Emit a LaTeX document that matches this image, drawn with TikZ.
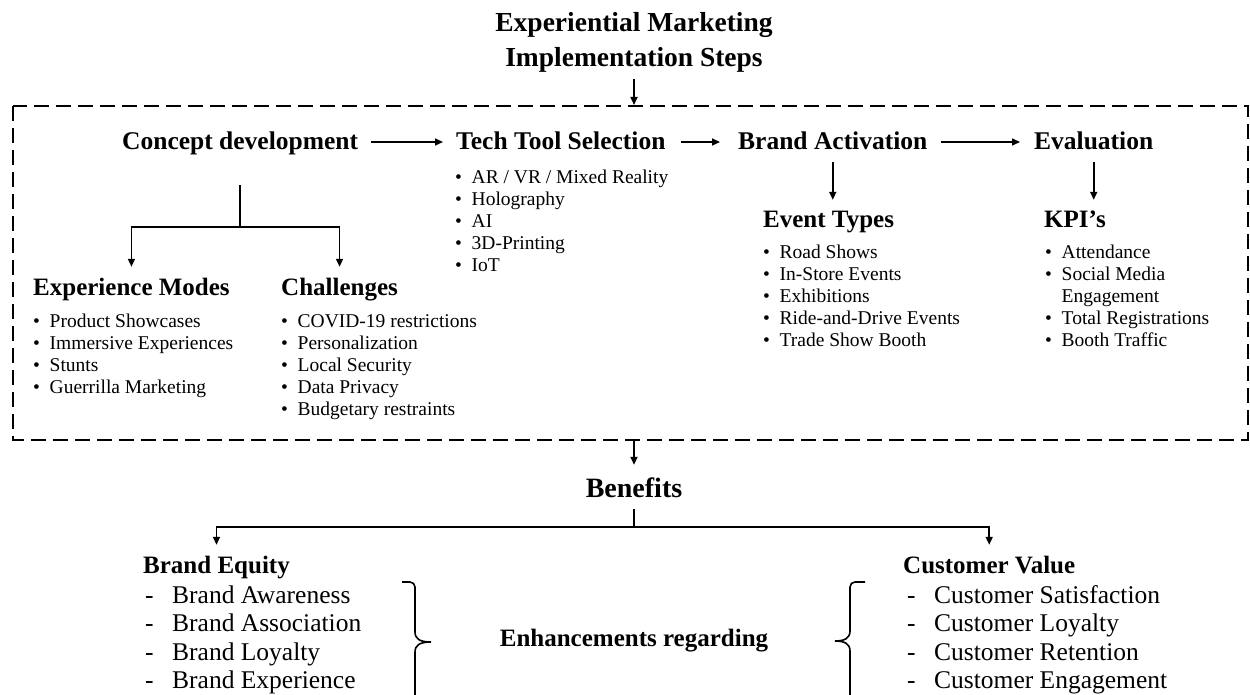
\documentclass[tikz,border=0pt]{standalone}
\usepackage{fontspec}
\setmainfont{Liberation Serif}
\usetikzlibrary{arrows.meta}
\newcommand\myblt{\makebox[16.5pt][l]{\textbullet}}
\newcommand\mydsh{\makebox[27pt][l]{-}}
\begin{document}
\begin{tikzpicture}[x=1pt,y=-1pt,
  arr/.style={-{Triangle[length=8pt,width=7pt]}, line width=1.6pt},
  ln/.style={line width=1.6pt},
  ttl/.style={font=\bfseries\fontsize{27.5}{35}\selectfont, align=center, inner sep=0pt},
  stephd/.style={font=\bfseries\fontsize{25.5}{28}\selectfont, inner sep=0pt, text height=21pt, text depth=5pt, anchor=base west},
  subhd/.style={font=\bfseries\fontsize{25}{28}\selectfont, inner sep=0pt, text height=17pt, text depth=5pt, anchor=base west},
  blist/.style={font=\fontsize{19.5}{22.2}\selectfont, inner sep=0pt, align=left, anchor=base west},
  dlist/.style={font=\fontsize{25.5}{28.5}\selectfont, inner sep=0pt, align=left, anchor=base west},
  dbox/.style={line width=2pt, dash pattern=on 15pt off 7pt}
]
\useasboundingbox (0,0) rectangle (1250,695);

% title (base = baseline of last line)
\node[ttl, anchor=base] (T) at (634,67) {Experiential Marketing\\Implementation Steps};
\coordinate (boxtop) at (634,105);
\coordinate (boxbot) at (634,440);
\draw[dbox] (13,106) rectangle (1248,440);
\draw[arr, shorten <=6pt] (T.south) -- (boxtop);

% steps
\node[stephd] (CD) at (122,150) {Concept development};
\node[stephd] (TT) at (456,150) {Tech Tool Selection};
\node[stephd] (BA) at (738,150) {Brand Activation};
\node[stephd] (EV) at (1034,150) {Evaluation};
\draw[arr, shorten <=13pt, shorten >=13pt] (CD) -- (TT);
\draw[arr, shorten <=15pt, shorten >=18pt] (TT) -- (BA);
\draw[arr, shorten <=13pt, shorten >=14pt] (BA) -- (EV);

% concept development branch
\node[subhd] (EM) at (33,295) {Experience Modes};
\node[subhd] (CH) at (281,295) {Challenges};
\coordinate (cdj) at (242,227);
\draw[ln, shorten <=30pt] (CD.south) -- (CD.south |- cdj);
\draw[arr, shorten >=11pt] (CD.south |- cdj) -| (EM.north);
\draw[arr, shorten >=11pt] (CD.south |- cdj) -| (CH.north);
\node[blist] (EML) at (33,393.6) {\myblt Product Showcases\\ \myblt Immersive Experiences\\ \myblt Stunts\\ \myblt Guerrilla Marketing};
\node[blist] (CHL) at (281,415.8) {\myblt COVID-19 restrictions\\ \myblt Personalization\\ \myblt Local Security\\ \myblt Data Privacy\\ \myblt Budgetary restraints};

% tech tools
\node[blist] (TTL) at (455,271.8) {\myblt AR / VR / Mixed Reality\\ \myblt Holography\\ \myblt AI\\ \myblt 3D-Printing\\ \myblt IoT};

% brand activation
\node[subhd] (ET) at (763,228) {Event Types};
\draw[arr, shorten <=7pt, shorten >=11pt] (BA.south) -- (BA.south |- ET.north);
\node[blist] (ETL) at (763,346.8) {\myblt Road Shows\\ \myblt In-Store Events\\ \myblt Exhibitions\\ \myblt Ride-and-Drive Events\\ \myblt Trade Show Booth};

% evaluation
\node[subhd] (KP) at (1044,228) {KPI’s};
\draw[arr, shorten <=7pt, shorten >=11pt] (EV.south) -- (EV.south |- KP.north);
\node[blist] (KPL) at (1045,346.8) {\myblt Attendance\\ \myblt Social Media\\ \makebox[16.5pt]{}Engagement\\ \myblt Total Registrations\\ \myblt Booth Traffic};

% benefits
\node[font=\bfseries\fontsize{28}{30}\selectfont, inner sep=0pt, text height=19pt, text depth=5pt, anchor=base] (BN) at (634,497) {Benefits};
\draw[arr, shorten >=13pt] (boxbot) -- (BN.north);
\coordinate (bj) at (634,527);
\draw[ln, shorten <=7pt] (BN.south) -- (bj);
\node[subhd] (BE) at (143,573) {Brand Equity};
\node[subhd] (CV) at (903,573) {Customer Value};
\draw[arr, shorten >=11pt] (bj) -| (BE.north);
\draw[arr, shorten >=11pt] (bj) -| (CV.north);
\node[dlist] (BEL) at (145,688.5) {\mydsh Brand Awareness\\ \mydsh Brand Association\\ \mydsh Brand Loyalty\\ \mydsh Brand Experience};
\node[dlist] (CVL) at (907,688.5) {\mydsh Customer Satisfaction\\ \mydsh Customer Loyalty\\ \mydsh Customer Retention\\ \mydsh Customer Engagement};
\node[subhd, anchor=base] (EH) at (634,646) {Enhancements regarding};

% braces
\draw[ln] (402,582) [rounded corners=5pt] -- (415,582) -- (415,615) [sharp corners] -- (415,632)
  .. controls (415,639) and (420,642) .. (431,642)
  .. controls (420,642) and (415,645) .. (415,652) -- (415,702);
\draw[ln] (865,582) [rounded corners=5pt] -- (850,582) -- (850,615) [sharp corners] -- (850,631)
  .. controls (850,638) and (845,641) .. (835,641)
  .. controls (845,641) and (850,644) .. (850,651) -- (850,702);
\end{tikzpicture}
\end{document}
